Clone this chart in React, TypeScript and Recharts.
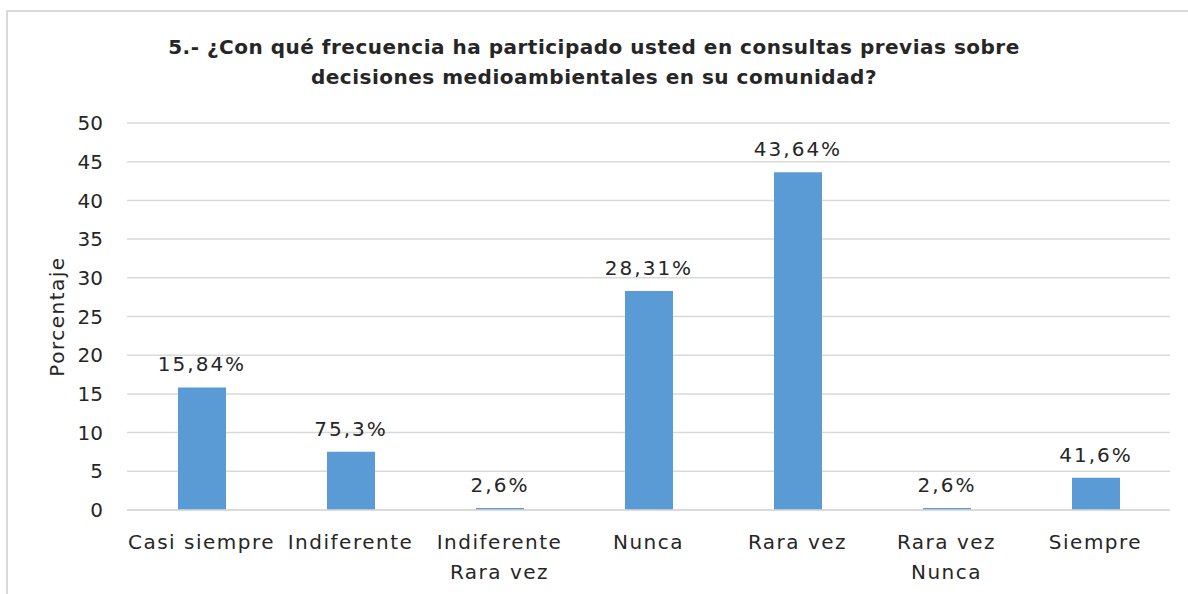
import React from "react";
import {
    BarChart,
    Bar,
    XAxis,
    YAxis,
    CartesianGrid,
    LabelList,
} from "recharts";

const categories: string[][] = [
    ["Casi siempre"],
    ["Indiferente"],
    ["Indiferente", "Rara vez"],
    ["Nunca"],
    ["Rara vez"],
    ["Rara vez", "Nunca"],
    ["Siempre"],
];

const values: number[] = [15.84, 7.53, 0.26, 28.31, 43.64, 0.26, 4.16];

const valueLabels: string[] = ["15,84%", "75,3%", "2,6%", "28,31%", "43,64%", "2,6%", "41,6%"];

const yTicks: number[] = [0, 5, 10, 15, 20, 25, 30, 35, 40, 45, 50];

const data = categories.map((lines, i) => ({
    name: lines.join(" "),
    lines,
    value: values[i],
    label: valueLabels[i],
}));

const FONT = "'DejaVu Sans', sans-serif";
const TEXT = "#262626";

const CategoryTick = ({ x, y, payload }: { x: number; y: number; payload: { value: string; index: number } }) => {
    const lines = categories[payload.index] ?? [payload.value];
    return (
        <text
            x={x}
            y={y}
            textAnchor="middle"
            fontSize={20}
            fill={TEXT}
            fontFamily={FONT}
            style={{ letterSpacing: 1.5 }}
        >
            {lines.map((line, i) => (
                <tspan key={i} x={x} dy={i === 0 ? 31 : 30}>
                    {line}
                </tspan>
            ))}
        </text>
    );
};

const App = () => {
    return (
        <div style={{ position: "absolute", left: 0, top: 0, width: 1188, height: 594, overflow: "hidden", background: "#fff" }}>
            <div
                style={{
                    position: "absolute",
                    left: 6,
                    top: 10,
                    width: 1200,
                    height: 600,
                    border: "2px solid #d9d9d9",
                }}
            />
            <div
                style={{
                    position: "absolute",
                    left: 0,
                    top: 32,
                    width: 1188,
                    textAlign: "center",
                    fontFamily: FONT,
                    fontWeight: "bold",
                    fontSize: 20,
                    letterSpacing: 0.5,
                    lineHeight: "30px",
                    color: TEXT,
                }}
            >
                5.- ¿Con qué frecuencia ha participado usted en consultas previas sobre
                <br />
                decisiones medioambientales en su comunidad?
            </div>
            <div style={{ position: "absolute", left: 0, top: 0 }}>
                <BarChart
                    width={1188}
                    height={594}
                    data={data}
                    margin={{ top: 123, right: 18, bottom: 0, left: 67 }}
                >
                    <CartesianGrid stroke="#d9d9d9" strokeWidth={1.5} vertical={false} />
                    <XAxis
                        dataKey="name"
                        type="category"
                        height={84}
                        axisLine={{ stroke: "#d9d9d9", strokeWidth: 1.5 }}
                        tickLine={false}
                        interval={0}
                        tick={CategoryTick as any}
                    />
                    <YAxis
                        width={60}
                        domain={[0, 50]}
                        ticks={yTicks}
                        axisLine={false}
                        tickLine={false}
                        tickMargin={18}
                        tick={{ fontSize: 20, fill: TEXT, fontFamily: FONT }}
                        label={{
                            value: "Porcentaje",
                            angle: -90,
                            position: "center",
                            dx: -40,
                            fontSize: 20,
                            fill: TEXT,
                            fontFamily: FONT,
                            style: { letterSpacing: 1.5 },
                        }}
                    />
                    <Bar dataKey="value" fill="#5b9bd5" barSize={48} isAnimationActive={false}>
                        <LabelList
                            dataKey="label"
                            position="top"
                            offset={16}
                            fontSize={20}
                            fill={TEXT}
                            fontFamily={FONT}
                            style={{ letterSpacing: 2 }}
                        />
                    </Bar>
                </BarChart>
            </div>
        </div>
    );
};

export default App;
